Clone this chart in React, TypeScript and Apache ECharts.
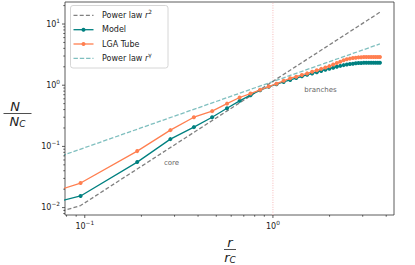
import React, { useEffect, useRef } from 'react';
import * as echarts from 'echarts';

// ---- data ----
const rValues = [0.095, 0.19, 0.285, 0.38, 0.475, 0.57, 0.665, 0.76, 0.855, 0.95, 1.045, 1.14, 1.235, 1.33, 1.425, 1.52, 1.615, 1.71, 1.805, 1.9, 1.995, 2.09, 2.185, 2.28, 2.375, 2.47, 2.565, 2.66, 2.755, 2.85, 2.945, 3.04, 3.135, 3.23, 3.325, 3.42, 3.515, 3.61, 3.705];
const modelValues = [0.0155, 0.0554, 0.1315, 0.2065, 0.30, 0.42, 0.555, 0.687, 0.83, 0.94, 1.04, 1.13, 1.22, 1.31, 1.40, 1.48, 1.56, 1.63, 1.71, 1.79, 1.86, 1.93, 2.00, 2.07, 2.13, 2.18, 2.22, 2.25, 2.28, 2.30, 2.31, 2.32, 2.32, 2.32, 2.32, 2.32, 2.32, 2.32, 2.32];
const lgaValues = [0.0252, 0.0838, 0.1845, 0.30, 0.377, 0.50, 0.63, 0.73, 0.84, 0.95, 1.06, 1.18, 1.30, 1.38, 1.47, 1.56, 1.66, 1.75, 1.85, 1.95, 2.05, 2.18, 2.30, 2.42, 2.55, 2.65, 2.72, 2.78, 2.82, 2.85, 2.87, 2.88, 2.89, 2.90, 2.90, 2.90, 2.90, 2.90, 2.90];
// lead-in point (r -> 0 is clipped off the left edge in the reference)
const leadInR = 0.07;
const modelLeadIn = 0.0122;
const lgaLeadIn = 0.0187;
const powerLaw2R = [0.07, 0.095, 3.705];
const powerLaw2N = [0.00816, 0.0108, 15.6];
const powerLawGammaR = [0.07, 3.705];
const powerLawGammaN = [0.0649, 4.73];
const coreRadius = 1;
const annotations = [
  [0.289, 0.0534, 'core'],
  [1.79, 0.83, 'branches'],
];
const xRange = [0.0785, 4.4];
const yRange = [0.00757, 22.9];
const xMajorTicks = [0.1, 1];
const xMinorTicks = [0.08, 0.09, 0.2, 0.3, 0.4, 0.5, 0.6, 0.7, 0.8, 0.9, 2, 3, 4];
const yMajorTicks = [0.01, 0.1, 1, 10];
const yMinorTicks = [0.008, 0.009, 0.02, 0.03, 0.04, 0.05, 0.06, 0.07, 0.08, 0.09, 0.2, 0.3, 0.4, 0.5, 0.6, 0.7, 0.8, 0.9, 2, 3, 4, 5, 6, 7, 8, 9, 20];
const legendLabels = ['Power law ', 'Model', 'LGA Tube', 'Power law '];
const legendSups = ['2', '', '', 'γ'];

const FONT = 'DejaVu Sans';
const TEAL = '#008080';
const CORAL = '#ff7f50';
const GREY = '#808080';
const TEAL_LIGHT = 'rgba(0,128,128,0.5)';
const PINK = '#f6baba';

function logLabel(v: number) {
  const l = Math.log10(v);
  const e = Math.round(l);
  if (Math.abs(l - e) > 1e-6) return '';
  const s = e < 0 ? '\u2212' + String(-e) : String(e);
  return '{b|10}{s|' + s + '}';
}

const labelRich = {
  b: { fontSize: 8, fontFamily: FONT, color: '#222', lineHeight: 13 },
  s: { fontSize: 5.8, fontFamily: FONT, color: '#222', lineHeight: 6, verticalAlign: 'top' },
};

export default function App() {
  const ref = useRef<HTMLDivElement>(null);
  useEffect(() => {
    if (!ref.current) return;
    const chart = echarts.init(ref.current, undefined, { renderer: 'svg' });

    const tickRender = (isX: boolean) => (params: any, api: any) => {
      const v = api.value(isX ? 0 : 1);
      const major = api.value(2);
      const cs = params.coordSys;
      const len = major ? 3 : 1.7;
      if (isX) {
        const x = api.coord([v, 1])[0];
        const y0 = cs.y + cs.height;
        return { type: 'line', shape: { x1: x, y1: y0, x2: x, y2: y0 + len }, style: { stroke: '#333', lineWidth: 0.8 } };
      }
      const y = api.coord([1, v])[1];
      const x0 = cs.x;
      return { type: 'line', shape: { x1: x0, y1: y, x2: x0 - len, y2: y }, style: { stroke: '#333', lineWidth: 0.8 } };
    };

    const annotationRender = (params: any, api: any) => {
      const p = api.coord([api.value(0), api.value(1)]);
      const idx = params.dataIndex;
      return {
        type: 'text',
        x: p[0],
        y: p[1],
        style: {
          text: annotations[idx][2] as string,
          fill: '#666',
          fontSize: 7,
          fontFamily: FONT,
          align: 'center',
          verticalAlign: 'middle',
        },
      };
    };

    const legendY = [15.3, 29.7, 44, 58.3];
    const legendEls: any[] = [
      {
        type: 'rect',
        shape: { x: 70.5, y: 5.5, width: 97.5, height: 62.5, r: 2.5 },
        style: { fill: 'rgba(255,255,255,0.8)', stroke: '#cccccc', lineWidth: 0.8 },
        z: 100,
      },
    ];
    const handleStyles = [
      { stroke: GREY, lineDash: [4, 2.2] },
      { stroke: TEAL },
      { stroke: CORAL },
      { stroke: TEAL_LIGHT, lineDash: [4.4, 1.9] },
    ];
    legendLabels.forEach((lab, i) => {
      const y = legendY[i];
      legendEls.push({
        type: 'line',
        shape: { x1: 73.5, y1: y, x2: 93.5, y2: y },
        style: { ...handleStyles[i], lineWidth: 1.3 },
        z: 101,
      });
      if (i === 1 || i === 2) {
        legendEls.push({
          type: 'circle',
          shape: { cx: 83.5, cy: y, r: 2 },
          style: { fill: i === 1 ? TEAL : CORAL },
          z: 102,
        });
      }
      const txt = legendSups[i] ? '{t|' + lab + '}{i|r}{s|' + legendSups[i] + '}' : '{t|' + lab + '}';
      legendEls.push({
        type: 'text',
        x: 102,
        y: y,
        z: 102,
        style: {
          text: txt,
          verticalAlign: 'middle',
          align: 'left',
          rich: {
            t: { fontSize: 8, fontFamily: FONT, fill: '#222', lineHeight: 13 },
            i: { fontSize: 8, fontFamily: FONT, fontStyle: 'italic', fill: '#222', lineHeight: 13 },
            s: { fontSize: 5.8, fontFamily: FONT, fill: '#222', lineHeight: 6, verticalAlign: 'top' },
          },
        },
      });
    });

    const fracRich = {
      i: { fontSize: 13, fontFamily: FONT, fontStyle: 'italic', fill: '#222', lineHeight: 14 },
      sub: { fontSize: 9, fontFamily: FONT, fontStyle: 'italic', fill: '#222', lineHeight: 7, verticalAlign: 'bottom' },
    };
    const axisTitles: any[] = [
      { type: 'text', x: 15, y: 106.5, style: { text: '{i|N}', rich: fracRich, align: 'center', verticalAlign: 'middle' } },
      { type: 'line', shape: { x1: 3.5, y1: 113.5, x2: 31.5, y2: 113.5 }, style: { stroke: '#222', lineWidth: 0.8 } },
      { type: 'text', x: 17.5, y: 121.5, style: { text: '{i|N}{sub|C}', rich: fracRich, align: 'center', verticalAlign: 'middle' } },
      { type: 'text', x: 230, y: 242, style: { text: '{i|r}', rich: fracRich, align: 'center', verticalAlign: 'middle' } },
      { type: 'line', shape: { x1: 224, y1: 249.5, x2: 236, y2: 249.5 }, style: { stroke: '#222', lineWidth: 0.8 } },
      { type: 'text', x: 230, y: 257, style: { text: '{i|r}{sub|C}', rich: fracRich, align: 'center', verticalAlign: 'middle' } },
    ];

    const option: any = {
      animation: false,
      backgroundColor: '#fff',
      grid: {
        left: 65,
        right: 21,
        top: 2,
        bottom: 50,
        show: true,
        borderColor: '#333',
        borderWidth: 0.8,
        backgroundColor: 'transparent',
        containLabel: false,
        outerBoundsMode: 'none',
      },
      xAxis: {
        type: 'log',
        logBase: 10,
        min: xRange[0],
        max: xRange[1],
        axisLine: { show: false },
        axisTick: { show: false },
        splitLine: { show: false },
        axisLabel: { formatter: logLabel, rich: labelRich, margin: 5, showMinLabel: true, showMaxLabel: true, hideOverlap: false },
      },
      yAxis: {
        type: 'log',
        logBase: 10,
        min: yRange[0],
        max: yRange[1],
        axisLine: { show: false },
        axisTick: { show: false },
        splitLine: { show: false },
        axisLabel: { formatter: logLabel, rich: labelRich, margin: 5, showMinLabel: true, showMaxLabel: true, hideOverlap: false },
      },
      graphic: [...legendEls, ...axisTitles],
      series: [
        {
          type: 'line',
          name: 'core radius',
          data: [[coreRadius, yRange[0]], [coreRadius, yRange[1]]],
          symbol: 'none',
          silent: true,
          lineStyle: { color: PINK, width: 1, type: [1, 1.4] },
          z: 1,
        },
        {
          type: 'line',
          name: 'Power law r2',
          data: powerLaw2R.map((r, i) => [r, powerLaw2N[i]]),
          showSymbol: false,
          symbol: 'none',
          lineStyle: { color: GREY, width: 1.3, type: [4, 2.2] },
          z: 2,
        },
        {
          type: 'line',
          name: 'Model',
          data: [{ value: [leadInR, modelLeadIn], symbol: 'none' }, ...rValues.map((r, i) => [r, modelValues[i]])],
          symbol: 'circle',
          symbolSize: 4,
          lineStyle: { color: TEAL, width: 1.3 },
          itemStyle: { color: TEAL },
          z: 3,
        },
        {
          type: 'line',
          name: 'LGA Tube',
          data: [{ value: [leadInR, lgaLeadIn], symbol: 'none' }, ...rValues.map((r, i) => [r, lgaValues[i]])],
          symbol: 'circle',
          symbolSize: 4,
          lineStyle: { color: CORAL, width: 1.3 },
          itemStyle: { color: CORAL },
          z: 4,
        },
        {
          type: 'line',
          name: 'Power law rγ',
          data: powerLawGammaR.map((r, i) => [r, powerLawGammaN[i]]),
          showSymbol: false,
          symbol: 'none',
          lineStyle: { color: TEAL_LIGHT, width: 1.3, type: [4.4, 1.9] },
          z: 5,
        },
        {
          type: 'custom',
          silent: true,
          data: annotations.map((a) => [a[0], a[1]]),
          renderItem: annotationRender,
          z: 6,
        },
        {
          type: 'custom',
          silent: true,
          data: [...xMajorTicks.map((v) => [v, 1, 1]), ...xMinorTicks.map((v) => [v, 1, 0])],
          renderItem: tickRender(true),
          z: 7,
        },
        {
          type: 'custom',
          silent: true,
          data: [...yMajorTicks.map((v) => [1, v, 1]), ...yMinorTicks.map((v) => [1, v, 0])],
          renderItem: tickRender(false),
          z: 7,
        },
      ],
    };
    chart.setOption(option);
    return () => chart.dispose();
  }, []);
  return (
    <div
      ref={ref}
      style={{ position: 'fixed', left: 0, top: 0, width: 415, height: 265, background: '#fff' }}
    />
  );
}
